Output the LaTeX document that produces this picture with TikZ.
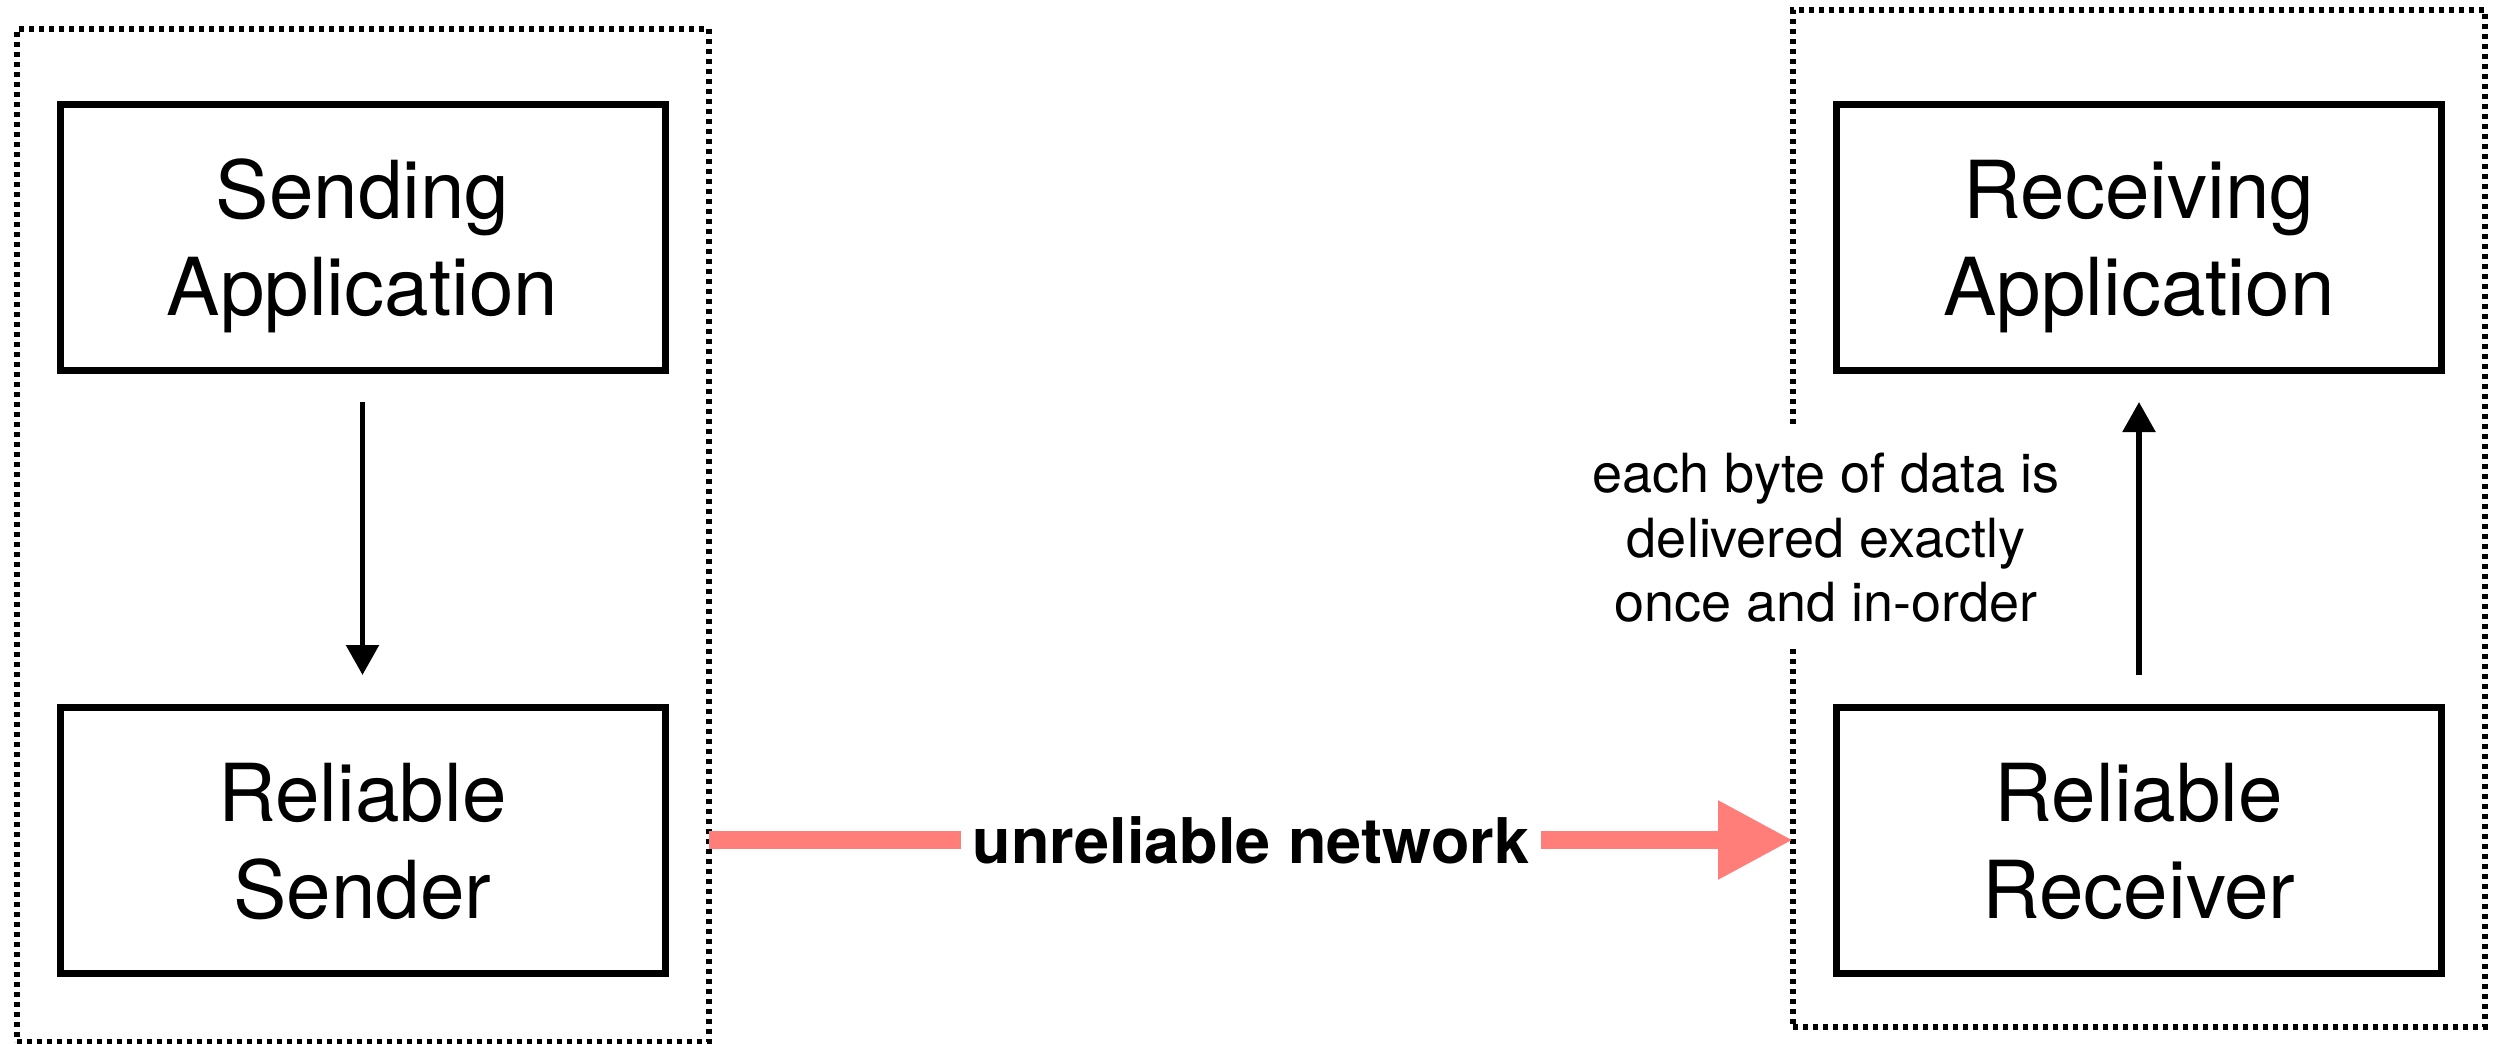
\documentclass[tikz,border=0pt]{standalone}
\usepackage{fontspec}
\setmainfont{TeX Gyre Heros}
\usetikzlibrary{arrows.meta}
\definecolor{netred}{RGB}{255,126,121}
\begin{document}
\begin{tikzpicture}[x=1pt,y=-1pt,
  hostbox/.style={draw, line width=6pt, dash pattern=on 5pt off 5pt,
    inner sep=0pt, outer sep=0pt},
  layerbox/.style={draw, line width=7pt, minimum width=605pt, minimum height=266pt,
    inner sep=0pt, outer sep=0pt, align=center,
    font=\fontsize{80}{97}\selectfont, text height=160pt, text depth=4pt},
  flow/.style={line width=5.5pt, -{Triangle[length=30pt,width=32pt]},
    shorten <=32pt, shorten >=32pt},
  net/.style={draw=netred, line width=18pt},
]
\useasboundingbox (0,0) rectangle (2504,1044);
\fill[white] (0,0) rectangle (2504,1044);

% end hosts
\node[hostbox, minimum width=692pt, minimum height=1013pt] (leftbox) at (362.5,535.5) {};
\node[hostbox, minimum width=692pt, minimum height=1017pt] (rightbox) at (2139,518.5) {};

% layers
\node[layerbox] (sendapp)  at (362.5,237) {Sending\\Application};
\node[layerbox] (sender)   at (362.5,840) {Reliable\\Sender};
\node[layerbox] (recvapp)  at (2139,237)  {Receiving\\Application};
\node[layerbox] (receiver) at (2139,840)  {Reliable\\Receiver};

% guarantee note over the host border
\node[fill=white, inner xsep=10pt, inner ysep=25pt, align=center,
  font=\fontsize{54}{64.5}\selectfont] (note) at (1826,538)
  {each byte of data is\\delivered exactly\\once and in-order};

% network label
\node[inner xsep=12pt, inner ysep=0pt, font=\fontsize{63}{70}\selectfont\bfseries]
  (netlabel) at (1251,840) {unreliable network};

% connectors
\draw[flow] (sendapp) -- (sender);
\draw[flow] (receiver) -- (recvapp);
\draw[net] (leftbox.east |- sender.center) -- (netlabel.west);
\draw[net, -{Triangle[length=75pt,width=74pt]}] (netlabel.east) -- (rightbox.west |- receiver.center);
\end{tikzpicture}
\end{document}
